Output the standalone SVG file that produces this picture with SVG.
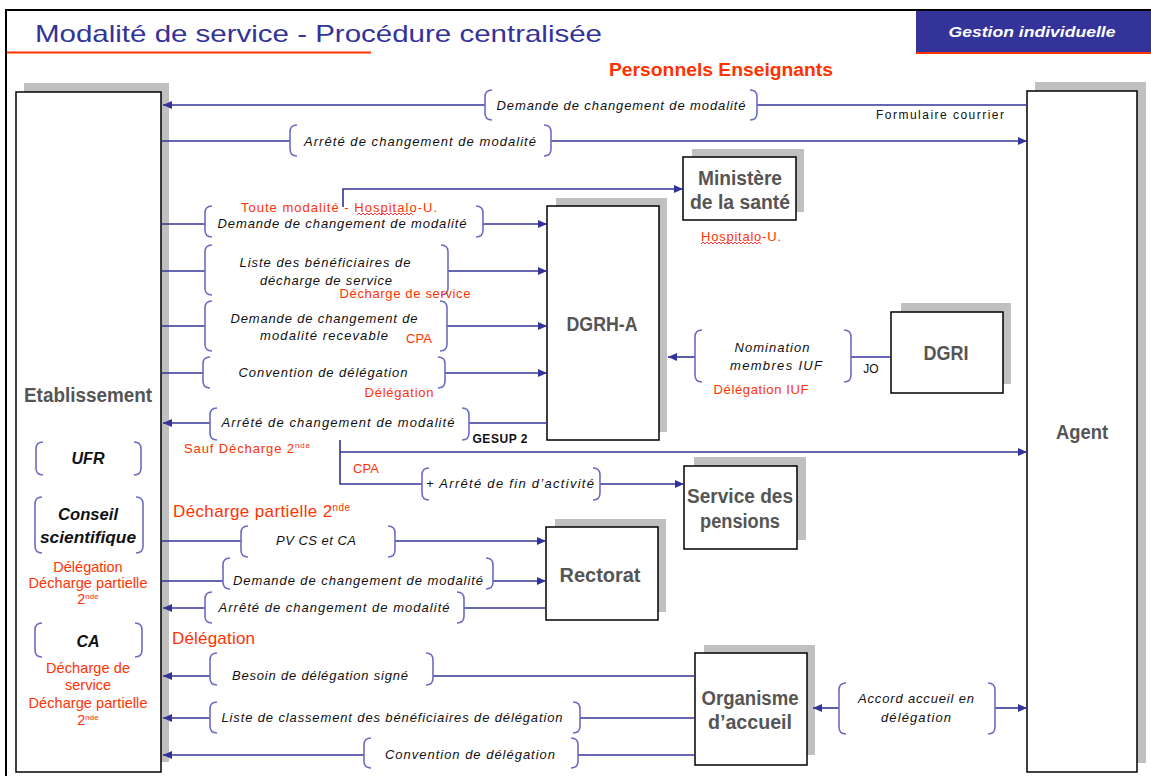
<svg xmlns="http://www.w3.org/2000/svg" width="1151" height="776" viewBox="0 0 1151 776">
  <defs>
    <marker id="arrow" markerUnits="userSpaceOnUse" markerWidth="9" markerHeight="8" refX="9" refY="4" orient="auto">
      <path d="M0,0 L9,4 L0,8 z" fill="#333399"/>
    </marker>
    <style>
      .frame { fill: none; stroke: #000; stroke-width: 2; }
      .box { fill: #fff; stroke: #000; stroke-width: 1.5; }
      .shadow { fill: #c0c0c0; }
      .node { font-family: "Liberation Sans", Arial, sans-serif; font-weight: bold; font-size: 20px; fill: #555; text-anchor: middle; }
      .unit { font-family: "Liberation Sans", Arial, sans-serif; font-weight: bold; font-style: italic; font-size: 16px; fill: #111; text-anchor: middle; }
      .lbl { font-family: "Liberation Sans", Arial, sans-serif; font-style: italic; font-size: 13px; fill: #111; text-anchor: middle; }
      .note { font-family: "Liberation Sans", Arial, sans-serif; font-size: 13px; fill: #ff3300; text-anchor: middle; }
      .note-col { font-family: "Liberation Sans", Arial, sans-serif; font-size: 14.5px; fill: #ff3300; text-anchor: middle; }
      .note-lg { font-family: "Liberation Sans", Arial, sans-serif; font-size: 17px; fill: #ff3300; }
      .small { font-family: "Liberation Sans", Arial, sans-serif; font-size: 12px; fill: #111; text-anchor: middle; }
      .line { fill: none; stroke: #333399; stroke-width: 1.6; }
      .arr { fill: none; stroke: #333399; stroke-width: 1.6; marker-end: url(#arrow); }
      .brk { fill: none; stroke: #6c6cc4; stroke-width: 1.6; }
      .squig { fill: none; stroke: #ff2020; stroke-width: 0.9; }
    </style>
  </defs>

  <rect width="1151" height="776" fill="#fff"/>

  <!-- page header -->
  <g id="header">
    <path class="frame" d="M6,776 V10 H1151"/>
    <text x="35" y="42" font-family="Liberation Sans, Arial, sans-serif" font-size="24" fill="#333399" textLength="567" lengthAdjust="spacingAndGlyphs">Modalité de service - Procédure centralisée</text>
    <line x1="7" y1="52.5" x2="371" y2="52.5" stroke="#ff3300" stroke-width="2"/>
    <rect x="916" y="11" width="235" height="41" fill="#333399"/>
    <line x1="916" y1="53" x2="1151" y2="53" stroke="#ff3300" stroke-width="2"/>
    <text x="1032" y="37" font-family="Liberation Sans, Arial, sans-serif" font-size="15" font-weight="bold" font-style="italic" fill="#fff" text-anchor="middle" textLength="167" lengthAdjust="spacingAndGlyphs">Gestion individuelle</text>
    <text x="721" y="76" font-family="Liberation Sans, Arial, sans-serif" font-size="18" font-weight="bold" fill="#ff3300" text-anchor="middle" textLength="224" lengthAdjust="spacingAndGlyphs">Personnels Enseignants</text>
  </g>

  <!-- Etablissement column -->
  <g id="etablissement">
    <rect class="shadow" x="24" y="83" width="145" height="679"/>
    <rect class="box" x="16" y="92" width="145" height="680"/>
    <text class="node" x="88" y="402" font-size="19" textLength="128" lengthAdjust="spacingAndGlyphs">Etablissement</text>
    <path class="brk" d="M43,442 Q36,442 36,449 L36,468 Q36,475 43,475 M134,442 Q141,442 141,449 L141,468 Q141,475 134,475"/>
    <text class="unit" x="88" y="464" textLength="33" lengthAdjust="spacingAndGlyphs">UFR</text>
    <path class="brk" d="M42,497 Q35,497 35,504 L35,546 Q35,553 42,553 M136,497 Q143,497 143,504 L143,546 Q143,553 136,553"/>
    <text class="unit" x="88" y="520" textLength="60" lengthAdjust="spacingAndGlyphs">Conseil</text>
    <text class="unit" x="88" y="543" textLength="96" lengthAdjust="spacingAndGlyphs">scientifique</text>
    <text class="note-col" x="88" y="572">Délégation</text>
    <text class="note-col" x="88" y="588" textLength="119">Décharge partielle</text>
    <text class="note-col" x="88" y="604">2<tspan font-size="8" dy="-5">nde</tspan></text>
    <path class="brk" d="M42,623 Q35,623 35,630 L35,650 Q35,657 42,657 M135,623 Q142,623 142,630 L142,650 Q142,657 135,657"/>
    <text class="unit" x="88" y="647">CA</text>
    <text class="note-col" x="88" y="673" textLength="84">Décharge de</text>
    <text class="note-col" x="88" y="690">service</text>
    <text class="note-col" x="88" y="708" textLength="119">Décharge partielle</text>
    <text class="note-col" x="88" y="725">2<tspan font-size="8" dy="-5">nde</tspan></text>
  </g>

  <!-- Agent column -->
  <g id="agent">
    <rect class="shadow" x="1035" y="82" width="111" height="681"/>
    <rect class="box" x="1027" y="91" width="110" height="681"/>
    <text class="node" x="1082" y="439" font-size="19" textLength="52" lengthAdjust="spacingAndGlyphs">Agent</text>
  </g>

  <g id="ministere">
    <rect class="shadow" x="692" y="149" width="112" height="63"/>
    <rect class="box" x="683" y="157" width="113" height="63"/>
    <text class="node" x="740" y="185" textLength="84" lengthAdjust="spacingAndGlyphs">Ministère</text>
    <text class="node" x="740" y="209" textLength="100" lengthAdjust="spacingAndGlyphs">de la santé</text>
  </g>

  <g id="dgrh-a">
    <rect class="shadow" x="556" y="198" width="111" height="234"/>
    <rect class="box" x="547" y="206" width="112" height="234"/>
    <text class="node" x="602" y="331" textLength="71" lengthAdjust="spacingAndGlyphs">DGRH-A</text>
  </g>

  <g id="dgri">
    <rect class="shadow" x="901" y="303" width="110" height="81"/>
    <rect class="box" x="891" y="312" width="112" height="81"/>
    <text class="node" x="946" y="360" textLength="45" lengthAdjust="spacingAndGlyphs">DGRI</text>
  </g>

  <g id="service-pensions">
    <rect class="shadow" x="694" y="457" width="112" height="83"/>
    <rect class="box" x="684" y="466" width="113" height="83"/>
    <text class="node" x="740" y="503" textLength="106" lengthAdjust="spacingAndGlyphs">Service des</text>
    <text class="node" x="740" y="528" textLength="80" lengthAdjust="spacingAndGlyphs">pensions</text>
  </g>

  <g id="rectorat">
    <rect class="shadow" x="555" y="519" width="111" height="93"/>
    <rect class="box" x="546" y="527" width="112" height="93"/>
    <text class="node" x="600" y="582" textLength="81" lengthAdjust="spacingAndGlyphs">Rectorat</text>
  </g>

  <g id="organisme-accueil">
    <rect class="shadow" x="704" y="645" width="111" height="110"/>
    <rect class="box" x="695" y="653" width="112" height="112"/>
    <text class="node" x="750" y="705" textLength="97" lengthAdjust="spacingAndGlyphs">Organisme</text>
    <text class="node" x="750" y="729" textLength="84" lengthAdjust="spacingAndGlyphs">d’accueil</text>
  </g>

  <!-- flows between services -->
  <g id="connectors">
    <!-- Agent -> Etablissement : demande -->
    <line class="line" x1="1027" y1="105" x2="757" y2="105"/>
    <line class="arr" x1="485" y1="105" x2="163" y2="105"/>
    <path class="brk" d="M492,90 Q485,90 485,97 L485,113 Q485,120 492,120 M750,90 Q757,90 757,97 L757,113 Q757,120 750,120"/>
    <text class="lbl" x="621" y="110" textLength="249">Demande de changement de modalité</text>
    <text class="small" x="940" y="119" textLength="128">Formulaire courrier</text>

    <!-- Etablissement -> Agent : arrêté -->
    <line class="line" x1="161" y1="141" x2="290" y2="141"/>
    <line class="arr" x1="551" y1="141" x2="1027" y2="141"/>
    <path class="brk" d="M297,125 Q290,125 290,132 L290,149 Q290,156 297,156 M544,125 Q551,125 551,132 L551,149 Q551,156 544,156"/>
    <text class="lbl" x="420" y="146" textLength="232">Arrêté de changement de modalité</text>

    <!-- branch to Ministère de la santé -->
    <path class="arr" d="M343,207 V189 H683"/>
    <text class="note" x="339" y="212" font-size="13.5" textLength="196">Toute modalité - Hospitalo-U.</text>
    <path class="squig" d="M357,215 l2,-2 2,2 2,-2 2,2 2,-2 2,2 2,-2 2,2 2,-2 2,2 2,-2 2,2 2,-2 2,2 2,-2 2,2 2,-2 2,2 2,-2 2,2 2,-2 2,2 2,-2 2,2 2,-2 2,2 2,-2 2,2"/>
    <text class="note" x="741" y="241" font-size="13.5" textLength="80">Hospitalo-U.</text>
    <path class="squig" d="M701,244 l2,-2 2,2 2,-2 2,2 2,-2 2,2 2,-2 2,2 2,-2 2,2 2,-2 2,2 2,-2 2,2 2,-2 2,2 2,-2 2,2 2,-2 2,2 2,-2 2,2 2,-2 2,2 2,-2 2,2 2,-2 2,2 2,-2 2,2"/>

    <!-- Etablissement -> DGRH-A -->
    <line class="line" x1="161" y1="224" x2="205" y2="224"/>
    <line class="arr" x1="483" y1="224" x2="547" y2="224"/>
    <path class="brk" d="M212,206 Q205,206 205,213 L205,230 Q205,237 212,237 M476,206 Q483,206 483,213 L483,230 Q483,237 476,237"/>
    <text class="lbl" x="342" y="228" textLength="249">Demande de changement de modalité</text>

    <line class="line" x1="161" y1="271" x2="205" y2="271"/>
    <line class="arr" x1="448" y1="271" x2="547" y2="271"/>
    <path class="brk" d="M212,245 Q205,245 205,252 L205,288 Q205,295 212,295 M441,245 Q448,245 448,252 L448,288 Q448,295 441,295"/>
    <text class="lbl" x="325" y="267" textLength="171">Liste des bénéficiaires de</text>
    <text class="lbl" x="326" y="285" textLength="132">décharge de service</text>
    <text class="note" x="405" y="298" font-size="14" textLength="131">Décharge de service</text>

    <line class="line" x1="161" y1="326" x2="205" y2="326"/>
    <line class="arr" x1="447" y1="326" x2="547" y2="326"/>
    <path class="brk" d="M212,301 Q205,301 205,308 L205,344 Q205,351 212,351 M440,301 Q447,301 447,308 L447,344 Q447,351 440,351"/>
    <text class="lbl" x="324" y="323" textLength="187">Demande de changement de</text>
    <text class="lbl" x="324" y="340" textLength="128">modalité recevable</text>
    <text class="note" x="419" y="343" font-size="14">CPA</text>

    <line class="line" x1="161" y1="373" x2="203" y2="373"/>
    <line class="arr" x1="445" y1="373" x2="547" y2="373"/>
    <path class="brk" d="M210,357 Q203,357 203,364 L203,381 Q203,388 210,388 M438,357 Q445,357 445,364 L445,381 Q445,388 438,388"/>
    <text class="lbl" x="323" y="377" textLength="169">Convention de délégation</text>
    <text class="note" x="399" y="397" font-size="14" textLength="69">Délégation</text>

    <!-- DGRH-A -> Etablissement : arrêté -->
    <line class="line" x1="547" y1="423" x2="469" y2="423"/>
    <line class="arr" x1="210" y1="423" x2="163" y2="423"/>
    <path class="brk" d="M217,408 Q210,408 210,415 L210,433 Q210,440 217,440 M462,408 Q469,408 469,415 L469,433 Q469,440 462,440"/>
    <text class="lbl" x="338" y="427" textLength="233">Arrêté de changement de modalité</text>
    <text class="small" x="500" y="443" font-weight="bold" textLength="55">GESUP 2</text>
    <text class="note" x="247" y="453" font-size="14.5" textLength="126">Sauf Décharge 2<tspan font-size="8" dy="-5">nde</tspan></text>

    <!-- copies to Agent and Service des pensions -->
    <path class="line" d="M340,440 V484 H422"/>
    <path class="arr" d="M340,452 H1027"/>
    <line class="arr" x1="600" y1="484" x2="684" y2="484"/>
    <path class="brk" d="M429,468 Q422,468 422,475 L422,493 Q422,500 429,500 M593,468 Q600,468 600,475 L600,493 Q600,500 593,500"/>
    <text class="lbl" x="510" y="488" textLength="168">+ Arrêté de fin d’activité</text>
    <text class="note" x="366" y="473" font-size="14">CPA</text>

    <text class="note-lg" x="173" y="517" textLength="177">Décharge partielle 2<tspan font-size="10" dy="-6">nde</tspan></text>

    <!-- Etablissement <-> Rectorat -->
    <line class="line" x1="161" y1="541" x2="241" y2="541"/>
    <line class="arr" x1="395" y1="541" x2="546" y2="541"/>
    <path class="brk" d="M248,526 Q241,526 241,533 L241,550 Q241,557 248,557 M388,526 Q395,526 395,533 L395,550 Q395,557 388,557"/>
    <text class="lbl" x="316" y="545" textLength="80">PV CS et CA</text>

    <line class="line" x1="161" y1="581" x2="223" y2="581"/>
    <line class="arr" x1="493" y1="581" x2="546" y2="581"/>
    <path class="brk" d="M230,558 Q223,558 223,565 L223,582 Q223,589 230,589 M486,558 Q493,558 493,565 L493,582 Q493,589 486,589"/>
    <text class="lbl" x="358" y="585" textLength="250">Demande de changement de modalité</text>

    <line class="line" x1="546" y1="608" x2="464" y2="608"/>
    <line class="arr" x1="205" y1="608" x2="163" y2="608"/>
    <path class="brk" d="M212,592 Q205,592 205,599 L205,616 Q205,623 212,623 M457,592 Q464,592 464,599 L464,616 Q464,623 457,623"/>
    <text class="lbl" x="334" y="612" textLength="231">Arrêté de changement de modalité</text>

    <text class="note-lg" x="172" y="644" textLength="83">Délégation</text>

    <!-- Organisme d'accueil -> Etablissement -->
    <line class="line" x1="695" y1="676" x2="433" y2="676"/>
    <line class="arr" x1="210" y1="676" x2="163" y2="676"/>
    <path class="brk" d="M217,653 Q210,653 210,660 L210,678 Q210,685 217,685 M426,653 Q433,653 433,660 L433,678 Q433,685 426,685"/>
    <text class="lbl" x="320" y="680" textLength="176">Besoin de délégation signé</text>

    <line class="line" x1="695" y1="718" x2="580" y2="718"/>
    <line class="arr" x1="210" y1="718" x2="163" y2="718"/>
    <path class="brk" d="M217,702 Q210,702 210,709 L210,726 Q210,733 217,733 M573,702 Q580,702 580,709 L580,726 Q580,733 573,733"/>
    <text class="lbl" x="392" y="722" textLength="341">Liste de classement des bénéficiaires de délégation</text>

    <line class="line" x1="695" y1="755" x2="578" y2="755"/>
    <line class="arr" x1="364" y1="755" x2="163" y2="755"/>
    <path class="brk" d="M371,738 Q364,738 364,745 L364,761 Q364,768 371,768 M571,738 Q578,738 578,745 L578,761 Q578,768 571,768"/>
    <text class="lbl" x="470" y="759" textLength="170">Convention de délégation</text>

    <!-- DGRI -> DGRH-A -->
    <line class="line" x1="891" y1="357" x2="851" y2="357"/>
    <line class="arr" x1="695" y1="357" x2="668" y2="357"/>
    <path class="brk" d="M702,330 Q695,330 695,337 L695,375 Q695,382 702,382 M844,330 Q851,330 851,337 L851,375 Q851,382 844,382"/>
    <text class="lbl" x="772" y="352" textLength="75">Nomination</text>
    <text class="lbl" x="776" y="370" textLength="92">membres IUF</text>
    <text class="small" x="871" y="373">JO</text>
    <text class="note" x="761" y="394" font-size="14" textLength="95">Délégation IUF</text>

    <!-- Organisme d'accueil <-> Agent -->
    <line class="arr" x1="839" y1="708" x2="813" y2="708"/>
    <line class="arr" x1="995" y1="708" x2="1027" y2="708"/>
    <path class="brk" d="M846,683 Q839,683 839,690 L839,727 Q839,734 846,734 M988,683 Q995,683 995,690 L995,727 Q995,734 988,734"/>
    <text class="lbl" x="916" y="703" textLength="116">Accord accueil en</text>
    <text class="lbl" x="916" y="722" textLength="70">délégation</text>
  </g>
</svg>
